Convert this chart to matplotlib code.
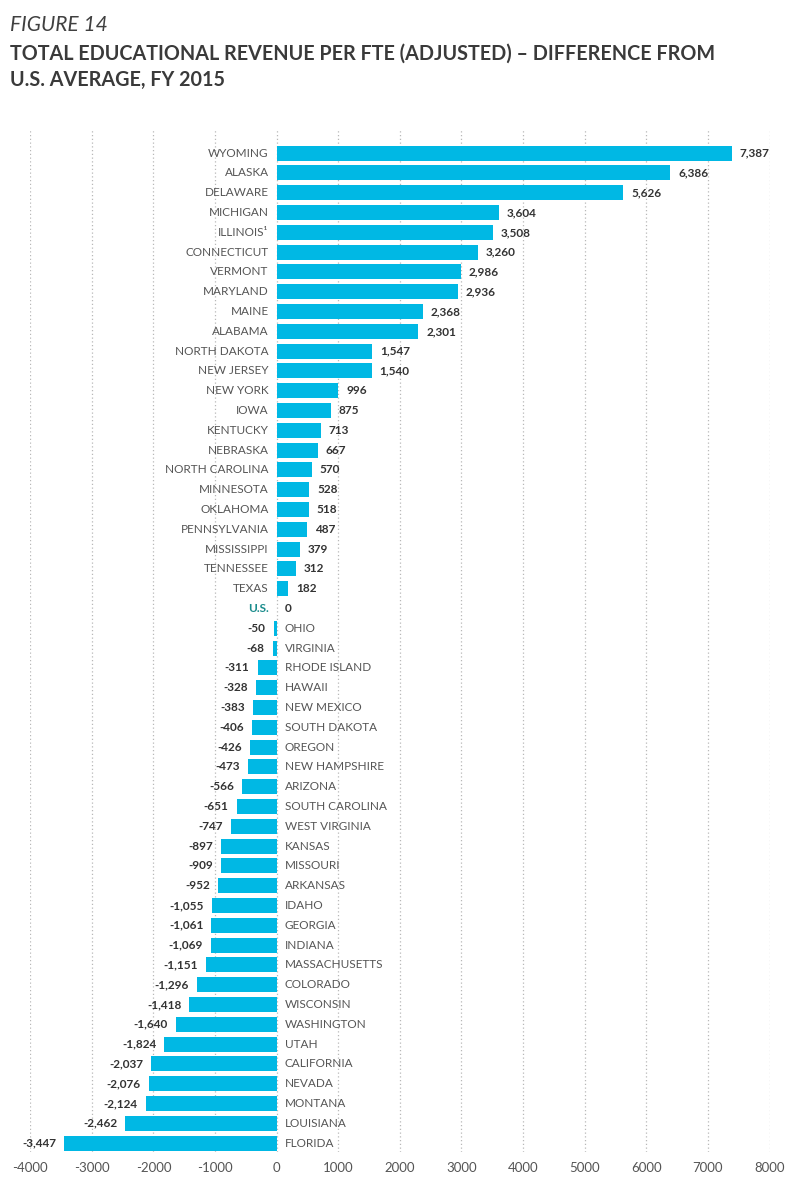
import numpy as np
import matplotlib.pyplot as plt

plt.rcParams['font.family'] = ['Lato', 'DejaVu Sans']

states = ["WYOMING", "ALASKA", "DELAWARE", "MICHIGAN", "ILLINOIS\u00b9", "CONNECTICUT",
          "VERMONT", "MARYLAND", "MAINE", "ALABAMA", "NORTH DAKOTA", "NEW JERSEY",
          "NEW YORK", "IOWA", "KENTUCKY", "NEBRASKA", "NORTH CAROLINA", "MINNESOTA",
          "OKLAHOMA", "PENNSYLVANIA", "MISSISSIPPI", "TENNESSEE", "TEXAS", "U.S.",
          "OHIO", "VIRGINIA", "RHODE ISLAND", "HAWAII", "NEW MEXICO", "SOUTH DAKOTA",
          "OREGON", "NEW HAMPSHIRE", "ARIZONA", "SOUTH CAROLINA", "WEST VIRGINIA",
          "KANSAS", "MISSOURI", "ARKANSAS", "IDAHO", "GEORGIA", "INDIANA",
          "MASSACHUSETTS", "COLORADO", "WISCONSIN", "WASHINGTON", "UTAH",
          "CALIFORNIA", "NEVADA", "MONTANA", "LOUISIANA", "FLORIDA"]
diffs = [7387, 6386, 5626, 3604, 3508, 3260, 2986, 2936, 2368, 2301, 1547, 1540,
         996, 875, 713, 667, 570, 528, 518, 487, 379, 312, 182, 0,
         -50, -68, -311, -328, -383, -406, -426, -473, -566, -651, -747,
         -897, -909, -952, -1055, -1061, -1069, -1151, -1296, -1418, -1640, -1824,
         -2037, -2076, -2124, -2462, -3447]
xticks = [-4000, -3000, -2000, -1000, 0, 1000, 2000, 3000, 4000, 5000, 6000, 7000, 8000]

bar_color = '#00b8e4'
label_color = '#555555'
value_color = '#333333'
us_color = '#1a8c8c'

fig = plt.figure(figsize=(7.97, 12), dpi=100)
ax = fig.add_axes([0.038, 0.04, 0.9275, 0.852])

y = np.arange(len(states))
ax.barh(y, diffs, height=0.76, color=bar_color, zorder=3)

ax.set_xlim(-4000, 8000)
ax.set_ylim(50.45, -1.19)
ax.set_xticks(xticks)
ax.set_xticklabels([str(t) for t in xticks])
ax.set_yticks([])
ax.tick_params(axis='x', length=0, pad=7, labelsize=9.5, labelcolor='#555555')
for t in xticks:
    ax.axvline(t, color='#b8b8b8', linestyle=(0, (1, 2)), linewidth=0.9, zorder=1)
for s in ax.spines.values():
    s.set_visible(False)

# offset in data units for ~8px
off = 130
for yi, name, v in zip(y, states, diffs):
    if name == "U.S.":
        ax.text(-off, yi, name, ha='right', va='center', fontsize=8.5,
                fontweight='bold', color=us_color)
        ax.text(off, yi, f"{v:,}", ha='left', va='center', fontsize=8.5,
                fontweight='bold', color=value_color)
    elif v > 0:
        ax.text(-off, yi, name, ha='right', va='center', fontsize=8.5,
                color=label_color)
        ax.text(v + off, yi, f"{v:,}", ha='left', va='center', fontsize=8.5,
                fontweight='bold', color=value_color)
    else:
        ax.text(off, yi, name, ha='left', va='center', fontsize=8.5,
                color=label_color)
        ax.text(v - off, yi, f"{v:,}", ha='right', va='center', fontsize=8.5,
                fontweight='bold', color=value_color)

fig.text(0.0125, 0.979, "FIGURE 14", ha='left', va='center', fontsize=15,
         fontstyle='italic', color='#404040')
fig.text(0.0125, 0.955, "TOTAL EDUCATIONAL REVENUE PER FTE (ADJUSTED) \u2013 DIFFERENCE FROM",
         ha='left', va='center', fontsize=14.2, fontweight='bold', color='#3a3a3a')
fig.text(0.0125, 0.933, "U.S. AVERAGE, FY 2015",
         ha='left', va='center', fontsize=14.2, fontweight='bold', color='#3a3a3a')

fig.savefig('out.png', dpi=100)
